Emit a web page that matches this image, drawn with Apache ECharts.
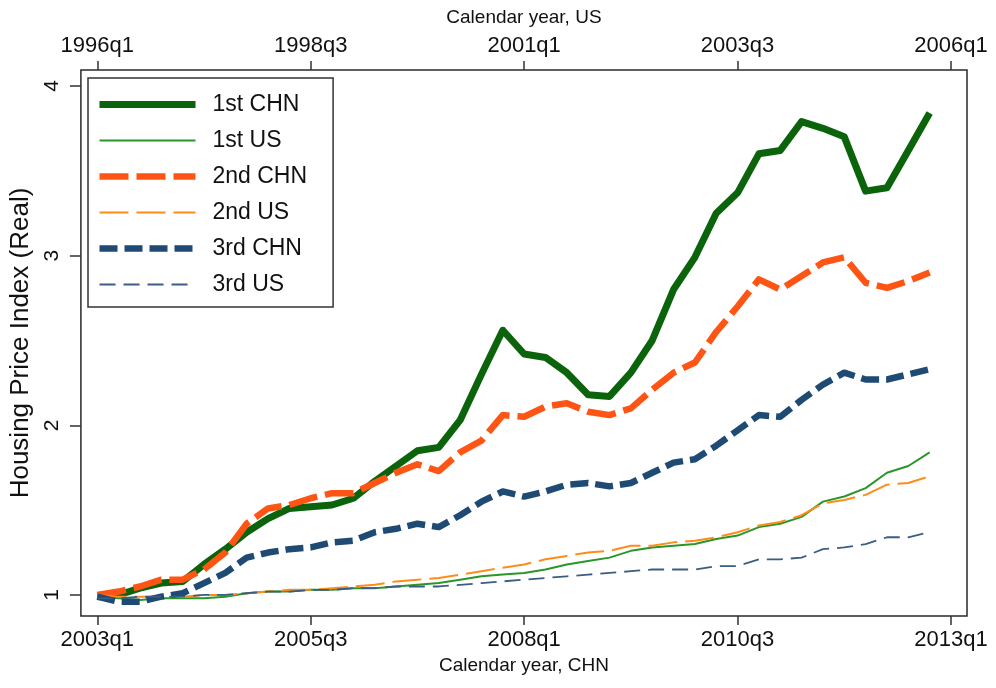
<!DOCTYPE html>
<html>
<head>
<meta charset="utf-8">
<script src="https://cdn.jsdelivr.net/npm/echarts@6/dist/echarts.min.js"></script>
<style>
  html, body { margin: 0; padding: 0; background: #fff; }
  #chart { width: 996px; height: 688px; }
</style>
</head>
<body>
<div id="chart"></div>
<script>
// quarters, 2003q1 .. 2012q4 (CHN calendar), index 0..39
const quarters = [
  '2003q1', '2003q2', '2003q3', '2003q4', '2004q1', '2004q2', '2004q3', '2004q4',
  '2005q1', '2005q2', '2005q3', '2005q4', '2006q1', '2006q2', '2006q3', '2006q4',
  '2007q1', '2007q2', '2007q3', '2007q4', '2008q1', '2008q2', '2008q3', '2008q4',
  '2009q1', '2009q2', '2009q3', '2009q4', '2010q1', '2010q2', '2010q3', '2010q4',
  '2011q1', '2011q2', '2011q3', '2011q4', '2012q1', '2012q2', '2012q3', '2012q4',
]

// tick positions (quarter index) and their labels
const tickPos = [0, 10, 20, 30, 40]
const ticksCHN = ['2003q1', '2005q3', '2008q1', '2010q3', '2013q1']
const ticksUS = ['1996q1', '1998q3', '2001q1', '2003q3', '2006q1']
const yTicks = [1, 2, 3, 4]

const chn1 = [0.99, 1.00, 1.04, 1.07, 1.08, 1.18, 1.27, 1.37, 1.45, 1.51,
  1.52, 1.53, 1.57, 1.67, 1.76, 1.85, 1.87, 2.03, 2.30, 2.56,
  2.42, 2.40, 2.31, 2.18, 2.17, 2.31, 2.50, 2.80, 2.99, 3.25,
  3.37, 3.60, 3.62, 3.79, 3.75, 3.70, 3.38, 3.40, 3.62, 3.84]
const us1 = [0.99, 0.98, 0.97, 0.98, 0.98, 0.98, 0.99, 1.01, 1.02, 1.02,
  1.03, 1.03, 1.04, 1.04, 1.05, 1.06, 1.07, 1.09, 1.11, 1.12,
  1.13, 1.15, 1.18, 1.20, 1.22, 1.26, 1.28, 1.29, 1.30, 1.33,
  1.35, 1.40, 1.42, 1.46, 1.55, 1.58, 1.63, 1.72, 1.76, 1.84]
const chn2 = [1.00, 1.02, 1.05, 1.09, 1.09, 1.15, 1.25, 1.42, 1.51, 1.53,
  1.57, 1.60, 1.60, 1.66, 1.72, 1.77, 1.73, 1.84, 1.91, 2.06,
  2.05, 2.11, 2.13, 2.08, 2.06, 2.10, 2.21, 2.31, 2.37, 2.55,
  2.70, 2.86, 2.80, 2.88, 2.96, 2.99, 2.84, 2.81, 2.85, 2.90]
const us2 = [1.00, 0.99, 0.99, 0.99, 0.99, 1.00, 1.00, 1.01, 1.02, 1.03,
  1.03, 1.04, 1.05, 1.06, 1.08, 1.09, 1.10, 1.12, 1.14, 1.16,
  1.18, 1.21, 1.23, 1.25, 1.26, 1.29, 1.29, 1.31, 1.32, 1.34,
  1.37, 1.41, 1.43, 1.47, 1.54, 1.56, 1.59, 1.65, 1.66, 1.70]
const chn3 = [0.99, 0.96, 0.96, 0.99, 1.01, 1.07, 1.13, 1.22, 1.25, 1.27,
  1.28, 1.31, 1.32, 1.37, 1.39, 1.42, 1.40, 1.47, 1.55, 1.61,
  1.58, 1.61, 1.65, 1.66, 1.64, 1.66, 1.72, 1.78, 1.80, 1.88,
  1.97, 2.06, 2.05, 2.15, 2.24, 2.31, 2.27, 2.27, 2.30, 2.33]
const us3 = [0.98, 0.98, 0.99, 0.99, 0.99, 1.00, 1.00, 1.01, 1.02, 1.02,
  1.03, 1.03, 1.04, 1.04, 1.05, 1.05, 1.05, 1.06, 1.07, 1.08,
  1.09, 1.10, 1.11, 1.12, 1.13, 1.14, 1.15, 1.15, 1.15, 1.17,
  1.17, 1.21, 1.21, 1.22, 1.27, 1.28, 1.30, 1.34, 1.34, 1.37]

const FONT = '"Liberation Sans", Arial, Helvetica, sans-serif'

// name, values, colour, width, dash
const styles = [
  ['1st CHN', chn1, '#0b640b', 7, 'solid'],
  ['1st US', us1, '#2a962a', 2, 'solid'],
  ['2nd CHN', chn2, '#ff5514', 6.5, [29, 8]],
  ['2nd US', us2, '#ff8c1a', 2, [29, 8]],
  ['3rd CHN', chn3, '#1f4a74', 6.5, [18, 7]],
  ['3rd US', us3, '#3a5d82', 1.8, [16, 8]],
]

const pairs = (vals) => quarters.map((q, i) => [i, vals[i]])

const lineStyleOf = (s) => ({ color: s[2], width: s[3], type: s[4], cap: 'butt', join: 'round' })

const xAxisBase = (pos, labels, title, nameGap) => {
  return {
    type: 'value',
    position: pos,
    min: -0.767,
    max: 40.75,
    name: title,
    nameLocation: 'middle',
    nameGap: nameGap,
    nameTextStyle: { fontFamily: FONT, fontSize: 19, color: '#111' },
    splitLine: { show: false },
    axisLine: { show: false, onZero: false },
    axisTick: {
      show: true,
      customValues: tickPos,
      length: 9,
      lineStyle: { color: '#333', width: 1.5 },
    },
    axisLabel: {
      customValues: tickPos,
      margin: 13,
      fontFamily: FONT,
      fontSize: 22,
      color: '#111',
      formatter: (v) => labels[tickPos.indexOf(Math.round(v))],
    },
  }
}

const chart = echarts.init(document.getElementById('chart'))
chart.setOption({
  backgroundColor: '#fff',
  animation: false,
  grid: {
    left: 79, right: 29, top: 70, bottom: 72,
    show: true,
    borderColor: '#2a2a2a',
    borderWidth: 1.5,
    backgroundColor: '#fff',
  },
  legend: {
    orient: 'vertical',
    left: 88,
    top: 78,
    padding: [15, 26, 11, 8],
    itemWidth: 96,
    itemHeight: 14,
    itemGap: 13,
    backgroundColor: '#fff',
    borderColor: '#333',
    borderWidth: 1.5,
    borderRadius: 0,
    itemStyle: { opacity: 0 },
    textStyle: { fontFamily: FONT, fontSize: 23, color: '#111', padding: [0, 0, 0, 12] },
    data: styles.map((s) => ({ name: s[0], lineStyle: lineStyleOf(s), itemStyle: { opacity: 0 } })),
  },
  xAxis: [
    xAxisBase('bottom', ticksCHN, 'Calendar year, CHN', 40),
    xAxisBase('top', ticksUS, 'Calendar year, US', 43),
  ],
  yAxis: {
    type: 'value',
    min: 0.876,
    max: 4.094,
    name: 'Housing Price Index (Real)',
    nameLocation: 'middle',
    nameGap: 36,
    nameRotate: 90,
    nameTextStyle: { fontFamily: FONT, fontSize: 26, color: '#111' },
    splitLine: { show: false },
    axisLine: { show: false, onZero: false },
    axisTick: {
      show: true,
      customValues: yTicks,
      length: 11,
      lineStyle: { color: '#333', width: 1.5 },
    },
    axisLabel: {
      customValues: yTicks,
      rotate: 90,
      margin: 18,
      fontFamily: FONT,
      fontSize: 21,
      color: '#111',
    },
  },
  series: styles.map((s) => ({
    name: s[0],
    type: 'line',
    symbol: 'none',
    data: pairs(s[1]),
    lineStyle: lineStyleOf(s),
    itemStyle: { color: s[2] },
  })),
})
</script>
</body>
</html>
